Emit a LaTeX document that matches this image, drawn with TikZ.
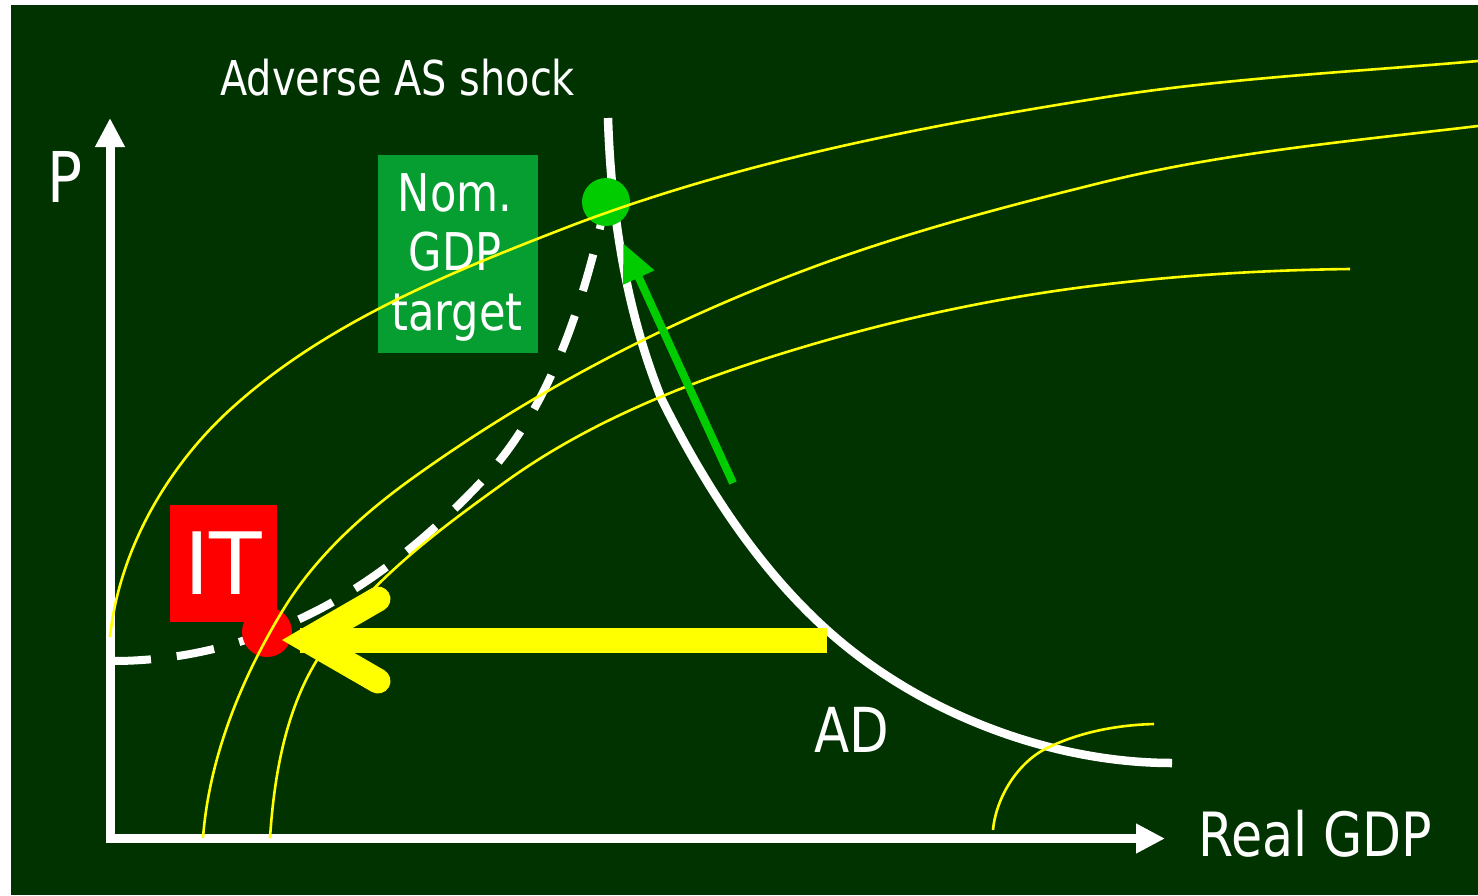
\documentclass[tikz,border=0pt]{standalone}
\usepackage{fontspec}
\setmainfont{DejaVu Sans}[FakeStretch=0.83]
\newfontfamily\itfont{DejaVu Sans}
\usetikzlibrary{arrows.meta}
\definecolor{bg}{RGB}{0,51,0}
\definecolor{nomgreen}{RGB}{6,158,48}
\definecolor{dotgreen}{RGB}{0,204,0}
\definecolor{ylw}{RGB}{255,255,0}
\tikzset{
  axisline/.style={white, line width=9pt, line join=miter,
    {Triangle[length=29pt,width=28pt]}-{Triangle[length=29pt,width=28pt]}},
  ascurve/.style={ylw, line width=2.6pt},
  adcurve/.style={white, line width=8.5pt},
  dashcurve/.style={white, line width=8pt, dash pattern=on 38pt off 26pt},
  lbl/.style={white, inner sep=0pt, anchor=base west},
  dotnode/.style={circle, inner sep=0pt, minimum size=#1},
}
\begin{document}
\begin{tikzpicture}[x=1pt,y=-1pt]
\useasboundingbox (0,0) rectangle (1478,895);
\fill[white] (0,0) rectangle (1478,895);
\fill[bg] (11,5) rectangle (1478,895);

% axes
\coordinate (ytip) at (110,118);
\coordinate (O) at (110,838.5);
\coordinate (xtip) at (1165,838.5);
\draw[axisline] (ytip) -- (O) -- (xtip);

% AD curve
\coordinate (adtop) at (608,118);
\coordinate (adend) at (1172,763);
\draw[adcurve] (adtop) .. controls (611,214) and (626,311) .. (662,400)
  .. controls (704,484) and (757,567) .. (827,630)
  .. controls (918,712) and (1049,763) .. (adend);

% dashed path
\coordinate (dstart) at (113,661);
\draw[dashcurve] (dstart) .. controls (166,661) and (219,651) .. (268,632)
  .. controls (351,602) and (423,544) .. (483,480)
  .. controls (552,406) and (584,300) .. (606,202);

% boxes
\node[fill=nomgreen, minimum width=160pt, minimum height=198pt, inner sep=0pt] (nombox) at (458,254) {};
\node[white, inner sep=0pt, anchor=base] (nom1) at (455,211) {\fontsize{52}{60}\selectfont Nom.};
\node[white, inner sep=0pt, anchor=base] (nom2) at (455,270) {\fontsize{52}{60}\selectfont GDP};
\node[white, inner sep=0pt, anchor=base] (nom3) at (457,330) {\fontsize{52}{60}\selectfont target};

\node[fill=red, minimum width=107pt, minimum height=117pt, inner sep=0pt, text=white] (itbox) at (223.5,563.5) {\itfont\fontsize{86}{90}\selectfont IT};

% dots
\node[dotnode=50pt, fill=red] (rdot) at (267,632) {};
\node[dotnode=48pt, fill=dotgreen] (gdot) at (606,202) {};

% AS curves
\draw[ascurve] (110,637) .. controls (119,550) and (168,465) .. (233,407)
  .. controls (325,324) and (444,275) .. (560,230)
  .. controls (732,163) and (917,127) .. (1100,98)
  .. controls (1225,78) and (1352,72) .. (1478,61);
\draw[ascurve] (203,838) .. controls (209,758) and (241,679) .. (283,610)
  .. controls (314.5,558) and (361,515.5) .. (410,480)
  .. controls (529,394) and (662,324) .. (800,272)
  .. controls (897,235) and (999,208) .. (1100,183)
  .. controls (1223,152.5) and (1352,141) .. (1478,126);
\draw[ascurve] (270,838) .. controls (274,777) and (285,712) .. (317,660)
  .. controls (362.5,585.6) and (437,531) .. (508,480)
  .. controls (594.7,418) and (697.5,378.7) .. (800,348)
  .. controls (897.7,318.7) and (999,297) .. (1100,285)
  .. controls (1183,275) and (1266.5,270) .. (1350,269);
\draw[ascurve] (993,830) .. controls (996,797.5) and (1017.6,762.4) .. (1047,748)
  .. controls (1080,732) and (1117,725) .. (1154,724);

% yellow arrow
\coordinate (ybarend) at (827,640);
\coordinate (ybarstart) at (300,640);
\draw[ylw, line width=25pt] (ybarend) -- (ybarstart);
\draw[ylw, line width=25pt, line cap=round, line join=miter] (378,599) -- (307,640) -- (378,681);

% green arrow
\coordinate (gtail) at (733,483);
\coordinate (ghead) at (623,243);
\draw[dotgreen, line width=8pt, -{Triangle[length=38pt,width=32pt]}] (gtail) -- (ghead);

% labels
\node[lbl] (adverse) at (220,95) {\fontsize{48}{56}\selectfont Adverse AS shock};
\node[lbl] (plabel) at (47,202) {\fontsize{70}{80}\selectfont P};
\node[lbl] (xlabel) at (1198,856) {\fontsize{61}{70}\selectfont Real GDP};
\node[lbl] (adlabel) at (814,752) {\fontsize{62}{70}\selectfont AD};
\end{tikzpicture}
\end{document}
